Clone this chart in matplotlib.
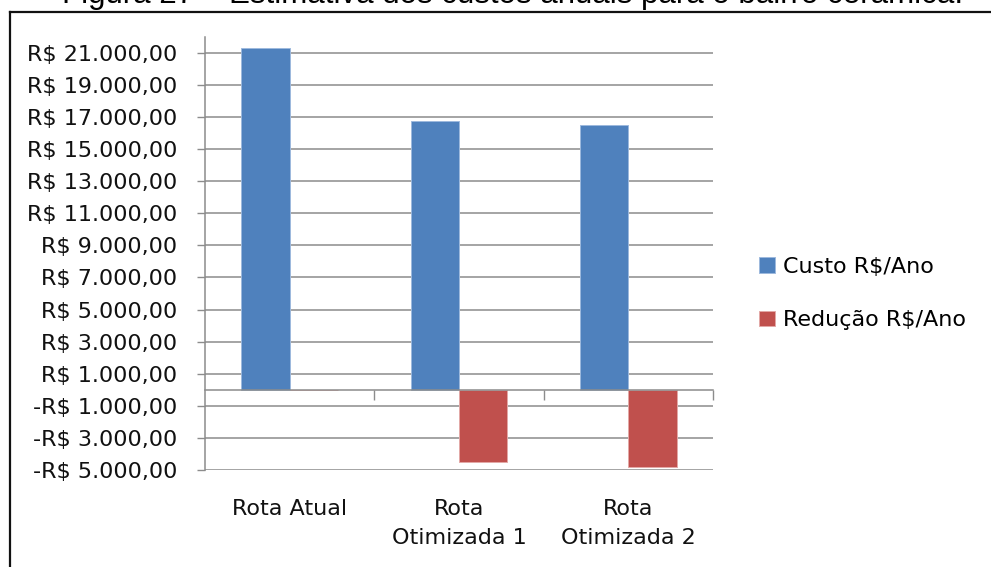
import numpy as np
import matplotlib
matplotlib.use('Agg')
import matplotlib.pyplot as plt
from matplotlib.lines import Line2D

# data
rotas = ['Rota Atual', 'Rota\nOtimizada 1', 'Rota\nOtimizada 2']
custo = [21290, 16775, 16525]        # Custo R$/Ano
reducao = [0, -4480, -4840]          # Redução R$/Ano
yticks = np.arange(-5000, 21001, 2000)

def brl(v):
    s = '{:,.2f}'.format(abs(v)).replace(',', 'X').replace('.', ',').replace('X', '.')
    return ('-R$ ' if v < 0 else 'R$ ') + s

plt.rcParams['font.family'] = ['DejaVu Sans']
fs = 16
grid_c = '#8c8c8c'

fig = plt.figure(figsize=(9.91, 5.67), dpi=100)
ax = fig.add_axes([205/991, 1-470/567, 508/991, (470-36.7)/567])

x = np.arange(len(rotas))
w = 1/3.5
b1 = ax.bar(x - w/2, custo, w, color='#4F81BD', edgecolor='#9DB9DD', linewidth=0.7,
            zorder=3, label='Custo R$/Ano')
b2 = ax.bar(x + w/2, reducao, w, color='#C0504D', edgecolor='#E3A9A7', linewidth=0.7,
            zorder=3, label='Redução R$/Ano')

ax.set_xlim(-0.5, 2.5)
ax.set_ylim(-5000, 22000)
ax.set_yticks(yticks)
ax.set_yticklabels([brl(v) for v in yticks], fontsize=fs, color='#111111')
ax.tick_params(axis='y', direction='out', length=6, width=1, color=grid_c, pad=14)
ax.yaxis.grid(True, color=grid_c, linewidth=1.1, zorder=0)

for s in ['top', 'right']:
    ax.spines[s].set_visible(False)
ax.spines['left'].set_color(grid_c)
ax.spines['left'].set_linewidth(1.1)
ax.spines['bottom'].set_position(('data', 0))
ax.spines['bottom'].set_color(grid_c)
ax.spines['bottom'].set_linewidth(1.1)
ax.spines['bottom'].set_zorder(4)

# boundary ticks on the zero line
ax.set_xticks([])
ax.set_xticks([0.5, 1.5, 2.5], minor=True)
ax.tick_params(axis='x', which='minor', direction='out', length=7, width=1, color=grid_c)

# category labels at the bottom
sec = ax.secondary_xaxis('bottom')
sec.set_xticks(x)
sec.set_xticklabels(rotas, fontsize=fs, color='#111111', linespacing=1.55)
sec.tick_params(length=0, pad=21)
sec.spines['bottom'].set_visible(False)

fig.legend(handles=[b1, b2], loc='center left', bbox_to_anchor=(759/991, 1-293.5/567),
           frameon=False, fontsize=fs, handlelength=0.7, handleheight=0.7,
           handletextpad=0.36, labelspacing=1.5, borderpad=0, borderaxespad=0)

# frame of the picture and the clipped caption
fig.add_artist(Line2D([10/991, 10/991], [-0.1, 1-12/567], transform=fig.transFigure, color='#111111', lw=1.6))
fig.add_artist(Line2D([10/991, 1.1], [1-12/567, 1-12/567], transform=fig.transFigure, color='#111111', lw=1.6))
fig.text(62/991, 1-3/567, 'Figura 27 – Estimativa dos custos anuais para o bairro cerâmica.',
         fontsize=22.5, family='Liberation Sans', va='baseline', ha='left')

fig.savefig('out.png', dpi=100)
